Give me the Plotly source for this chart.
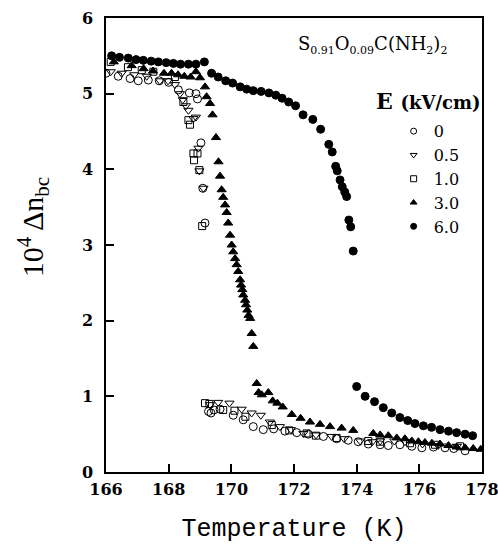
import plotly.graph_objects as go

# ---------------- data ----------------
t_e0 = [166.0, 166.39, 166.77, 167.03, 167.35, 167.7, 168.0, 168.31, 168.66, 168.87, 168.92,
        169.03, 169.09, 169.16, 169.27, 169.35, 169.45, 169.64, 170.06, 170.38, 170.70, 171.02,
        171.35, 171.71, 172.09, 172.46, 172.94, 173.36, 173.73, 174.05, 174.37, 174.75, 175.01,
        175.38, 175.76, 176.08, 176.45, 176.82, 177.1, 177.46]
v_e0 = [5.27, 5.23, 5.20, 5.17, 5.18, 5.17, 5.15, 5.05, 5.01, 5.00, 4.93,
        4.35, 3.75, 3.29, 0.80, 0.78, 0.82, 0.83, 0.75, 0.69, 0.60, 0.56,
        0.57, 0.54, 0.52, 0.50, 0.47, 0.44, 0.42, 0.40, 0.37, 0.36, 0.35,
        0.36, 0.34, 0.32, 0.33, 0.32, 0.31, 0.28]

t_e05 = [166.15, 166.5, 166.9, 167.30, 167.72, 167.98, 168.20, 168.36, 168.45, 168.55, 168.63,
         168.79, 168.87, 168.95, 168.98, 169.11, 169.32, 169.58, 169.94, 170.33, 170.65, 170.94,
         171.23, 171.55, 171.9, 172.30, 172.7, 173.20, 173.6, 174.11, 174.5, 174.75, 175.2,
         175.54, 176.1, 176.6, 177.2]
v_e05 = [5.29, 5.27, 5.25, 5.23, 5.17, 5.17, 5.12, 5.00, 4.92, 4.84, 4.78,
         4.67, 4.69, 4.28, 3.98, 3.75, 0.89, 0.92, 0.91, 0.83, 0.78, 0.75,
         0.66, 0.60, 0.56, 0.51, 0.49, 0.47, 0.44, 0.41, 0.40, 0.41, 0.41,
         0.40, 0.37, 0.35, 0.34]

t_e1 = [166.15, 166.7, 167.14, 167.51, 168.2, 168.47, 168.63, 168.68, 168.79, 168.81, 168.92,
        168.98, 169.07, 169.16, 169.3, 169.74, 170.1, 170.45, 171.29, 171.85, 172.40, 172.7,
        173.36, 174.37, 174.75, 175.7, 176.5, 177.3]
v_e1 = [5.42, 5.35, 5.31, 5.29, 5.22, 4.89, 4.65, 4.59, 4.21, 4.12, 4.21,
        3.99, 3.25, 0.91, 0.90, 0.82, 0.81, 0.73, 0.62, 0.55, 0.51, 0.48,
        0.45, 0.41, 0.40, 0.38, 0.36, 0.34]

t_e3 = [166.25, 166.82, 167.2, 167.5, 167.85, 168.09, 168.3, 168.5, 168.7, 168.87, 169.0,
        169.16, 169.21, 169.32, 169.40, 169.51, 169.59, 169.64, 169.69, 169.74, 169.80, 169.85,
        169.90, 169.96, 170.01, 170.06, 170.12, 170.17, 170.22, 170.28, 170.31, 170.35, 170.38,
        170.44, 170.47, 170.51, 170.55, 170.60, 170.65, 170.70, 170.81, 170.87, 170.97, 171.18,
        171.32, 171.47, 171.64, 171.93, 172.21, 172.51, 172.83, 173.15, 173.52, 173.89, 174.53,
        174.75, 175.01, 175.28, 175.54, 175.76, 175.97, 176.18, 176.40, 176.66, 176.93, 177.19,
        177.46, 177.72, 177.96]
v_e3 = [5.42, 5.37, 5.33, 5.30, 5.27, 5.27, 5.25, 5.23, 5.22, 5.29, 5.21,
        5.09, 4.96, 4.87, 4.72, 4.42, 4.10, 3.91, 3.73, 3.63, 3.53, 3.43,
        3.29, 3.13, 3.00, 2.91, 2.82, 2.74, 2.65, 2.54, 2.47, 2.41, 2.34,
        2.27, 2.21, 2.14, 2.07, 2.03, 1.83, 1.66, 1.17, 1.05, 1.02, 1.05,
        0.94, 0.91, 0.86, 0.76, 0.71, 0.66, 0.63, 0.60, 0.58, 0.55, 0.51,
        0.49, 0.48, 0.45, 0.44, 0.41, 0.40, 0.39, 0.38, 0.37, 0.35, 0.33,
        0.32, 0.31, 0.30]

t_e6 = [166.18, 166.43, 166.71, 166.96, 167.19, 167.44, 167.67, 167.92, 168.15, 168.38, 168.63,
        168.87, 169.14, 169.37, 169.58, 169.82, 170.04, 170.28, 170.49, 170.70, 170.95, 171.2,
        171.42, 171.62, 171.83, 172.05, 172.29, 172.60, 172.85, 173.11, 173.22, 173.33, 173.38,
        173.47, 173.54, 173.62, 173.68, 173.75, 173.81, 173.89, 174.0, 174.27, 174.57, 174.85,
        175.12, 175.38, 175.63, 175.86, 176.13, 176.39, 176.66, 176.93, 177.19, 177.46, 177.70]
v_e6 = [5.50, 5.48, 5.47, 5.45, 5.44, 5.43, 5.42, 5.41, 5.40, 5.39, 5.39,
        5.39, 5.42, 5.27, 5.22, 5.17, 5.14, 5.09, 5.06, 5.04, 5.03, 5.01,
        4.98, 4.94, 4.89, 4.84, 4.72, 4.66, 4.53, 4.33, 4.23, 4.04, 3.98,
        3.86, 3.77, 3.70, 3.64, 3.33, 3.24, 2.92, 1.13, 1.00, 0.93, 0.85,
        0.78, 0.72, 0.68, 0.64, 0.61, 0.59, 0.56, 0.54, 0.52, 0.50, 0.48]

series_names = ["0", "0.5", "1.0", "3.0", "6.0"]
x_ticks = [166, 168, 170, 172, 174, 176, 178]
y_ticks = [0, 1, 2, 3, 4, 5, 6]

# ---------------- figure ----------------
symbols = ["circle-open", "triangle-down-open", "square-open", "triangle-up", "circle"]
sizes = [8, 8, 7, 8, 8]
datasets = [(t_e0, v_e0), (t_e05, v_e05), (t_e1, v_e1), (t_e3, v_e3), (t_e6, v_e6)]

fig = go.Figure()
for (t, v), sym, sz, nm in zip(datasets, symbols, sizes, series_names):
    fig.add_trace(go.Scatter(
        x=t, y=v, mode="markers", name=nm, showlegend=False,
        marker=dict(symbol=sym, size=sz, color="black", line=dict(color="black", width=1)),
    ))
# legend entries (smaller symbols, as in the original key)
for sym, nm in zip(symbols, series_names):
    fig.add_trace(go.Scatter(
        x=[None], y=[None], mode="markers", name=nm, showlegend=True,
        marker=dict(symbol=sym, size=6, color="black", line=dict(color="black", width=1)),
    ))

serif = "DejaVu Serif"
axis_common = dict(
    showline=True, linecolor="black", linewidth=1.5, mirror=True,
    ticks="inside", ticklen=8, tickwidth=1.5, tickcolor="black",
    showgrid=False, zeroline=False, ticklabeloverflow="allow", automargin=False,
    tickfont=dict(family=serif, size=16, color="black", weight="bold"),
)

fig.update_layout(
    width=498, height=548,
    margin=dict(l=106, r=16, t=18, b=76),
    paper_bgcolor="white", plot_bgcolor="white",
    xaxis=dict(range=[166, 178], tickvals=x_ticks, ticktext=[str(v) for v in x_ticks],
               ticklabelstandoff=2,
               title=dict(text="Temperature (K)",
                          font=dict(family="Liberation Mono", size=25, color="black"),
                          standoff=21),
               **axis_common),
    yaxis=dict(range=[0, 6], tickvals=y_ticks, ticktext=[str(v) for v in y_ticks],
               ticklabelstandoff=8,
               **axis_common),
    legend=dict(x=0.765, y=0.788, xanchor="left", yanchor="top",
                bgcolor="rgba(0,0,0,0)", borderwidth=0,
                font=dict(family=serif, size=16, color="black"),
                tracegroupgap=0, itemwidth=30),
    annotations=[
        dict(xref="paper", yref="paper", x=-0.193, y=0.54, xanchor="center", yanchor="middle",
             textangle=-90, showarrow=False,
             text="10<sup>4</sup> Δn<sub>bc</sub>",
             font=dict(family="Liberation Serif", size=30, color="black")),
        dict(xref="paper", yref="paper", x=0.505, y=0.94, xanchor="left", yanchor="middle",
             showarrow=False,
             text=("S<sub><span style='font-size:11px'>0.91</span></sub>"
                   "O<sub><span style='font-size:11px'>0.09</span></sub>"
                   "C(NH<sub><span style='font-size:11px'>2</span></sub>)"
                   "<sub><span style='font-size:11px'>2</span></sub>"),
             font=dict(family=serif, size=18, color="black")),
        dict(xref="paper", yref="paper", x=0.714, y=0.818, xanchor="left", yanchor="middle",
             showarrow=False,
             text="E <span style='font-size:18px'>(kV/cm)</span>",
             font=dict(family=serif, size=22, color="black", weight="bold")),
    ],
)

# remove the page's default body margin so the figure sits at the window's corner
fig.write_html("out.html",
               config={"displayModeBar": False},
               post_script="document.body.style.margin='0px';document.body.style.overflow='hidden';")
